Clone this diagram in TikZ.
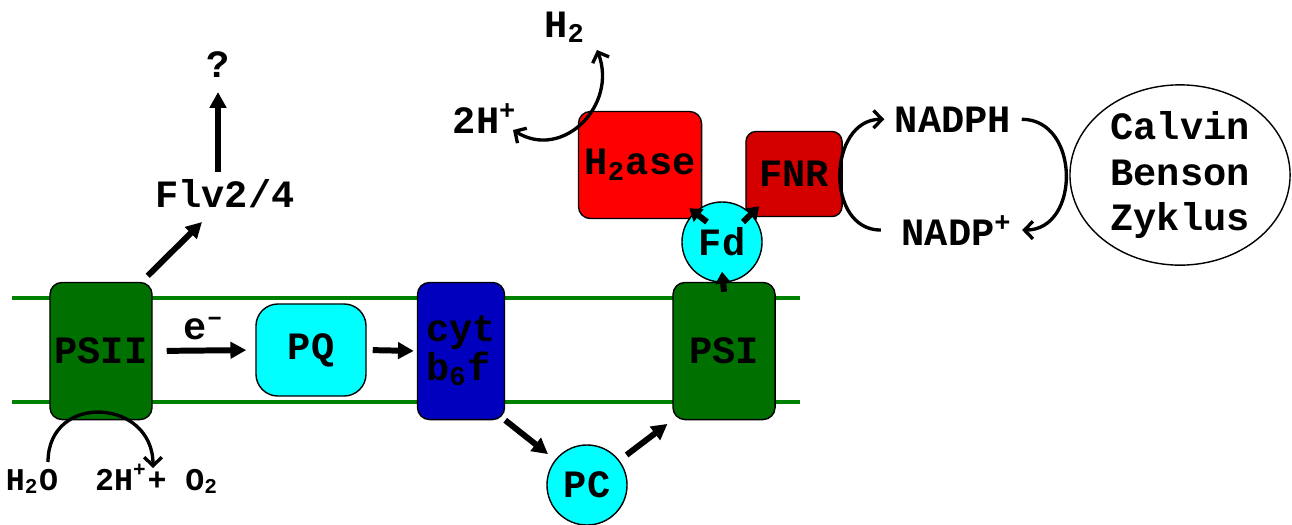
\documentclass[tikz,border=0pt]{standalone}
\usepackage{fontspec}
\setmainfont{Liberation Mono}
\usetikzlibrary{positioning}
\usetikzlibrary{calc}
\usetikzlibrary{arrows.meta}
\usetikzlibrary{shapes.geometric}
\definecolor{psgreen}{RGB}{0,112,0}
\definecolor{memgreen}{RGB}{0,128,0}
\definecolor{cytblue}{RGB}{0,0,190}
\definecolor{fnrred}{RGB}{212,0,0}
\definecolor{pqcyan}{RGB}{0,255,255}
\tikzset{
  box/.style            = { rectangle, inner sep=0pt, font=\bfseries\fontsize{11}{13}\selectfont },
  border/.style         = { thin, draw=black },
  round/.style          = { rounded corners=1.2mm },
}
\tikzset{
  complex/.style={
    box,
    border,
    round,
    minimum width=10.2mm,
    minimum height=13.7mm
  },
  carrier/.style        = { circle, border, fill=pqcyan, inner sep=0pt, minimum size=8mm,
                            font=\bfseries\fontsize{11}{13}\selectfont },
  tag/.style            = { inner sep=0pt, font=\bfseries\fontsize{11}{13}\selectfont },
  smalltag/.style       = { inner sep=0pt, font=\bfseries\fontsize{9}{11}\selectfont },
  membrane/.style       = { draw=memgreen, line width=1.1pt },
  flow/.style           = { line width=1.7pt, -{Triangle[length=4.5pt,width=4.6pt]} },
  shortflow/.style      = { line width=1.7pt, -{Triangle[length=3.4pt,width=4.4pt]} },
  turnover/.style       = { line width=0.95pt, -{Straight Barb[length=2.4pt,width=5pt]} },
  reversible/.style     = { line width=0.95pt, {Straight Barb[length=2.4pt,width=5pt]}-{Straight Barb[length=2.4pt,width=5pt]} }
}
\begin{document}
\begin{tikzpicture}[x=0.01cm, y=-0.01cm]
  \useasboundingbox (0,0) rectangle (1292,524);
  % thylakoid membrane
  \draw [membrane] (12,298) -- (800,298);
  \draw [membrane] (12,402) -- (800,402);

  \node (psii)  [complex,fill=psgreen] at (101,351) {PSII};
  \node (pq)    [complex,fill=pqcyan,minimum width=11mm,minimum height=9.2mm,rounded corners=2.2mm] at (311,350) {PQ};
  \node (cyt)   [complex,fill=cytblue,minimum width=8.7mm,align=left,
                 font=\bfseries\fontsize{11}{11}\selectfont] at (461,351) {cyt\\b\textsubscript{6}f};
  \node (psi)   [complex,fill=psgreen] at (724,351) {PSI};
  \node (pc)    [carrier] at (587,485) {PC};
  \node (h2ase) [complex,fill=red,minimum width=12.3mm,minimum height=10.7mm] at (640,165) {H\textsubscript{2}ase};
  \node (fnr)   [complex,fill=fnrred,minimum width=9.6mm,minimum height=8.5mm,rounded corners=1mm] at (794,174) {FNR};
  \node (fd)    [carrier] at (722,242) {Fd};
  \node (calvin) [ellipse,border,inner sep=0pt,minimum width=22mm,minimum height=16.6mm,align=center,
                  font=\bfseries\fontsize{11}{13}\selectfont] at (1180,175) {Calvin\\Benson\\Zyklus};

  \node (flv)     [tag,anchor=base] at (225,207) {Flv2/4};
  \node (query)   [tag,anchor=base] at (218,77)  {?};
  \node (h2)      [tag,anchor=base] at (565,37)  {H\textsubscript{2}};
  \node (protons) [tag,anchor=base] at (485,133) {2H\textsuperscript{+}};
  \node (nadph)   [tag,anchor=base] at (953,132) {NADPH};
  \node (nadp)    [tag,anchor=base] at (957,245) {NADP\textsuperscript{+}};
  \node (water)   [smalltag,anchor=base] at (32,490)  {H\textsubscript{2}O};
  \node (oxygen)  [smalltag,anchor=base] at (157,490) {2H\textsuperscript{+}+ O\textsubscript{2}};

  % electron transport
  \draw [flow,shorten <=1.4mm,shorten >=0.9mm] (psii.east) -- node [tag,above=0.8mm] {e\textsuperscript{--}} (pq.west);
  \draw [flow,shorten <=0.6mm,shorten >=0.3mm] (pq.east) -- (cyt.west);
  \draw [flow,shorten >=0.9mm] (cyt.south east) -- (pc);
  \draw [flow,shorten <=0.9mm,shorten >=0.6mm] (pc) -- (psi.south west);
  \draw [shortflow] ([yshift=-1mm]psi.north) -- ([yshift=1.1mm]fd.south);
  \draw [shortflow] ([shift={(-1.5mm,2mm)}]fd.center) -- ([shift={(-1.3mm,1.1mm)}]h2ase.south east);
  \draw [shortflow] ([shift={(2.1mm,2mm)}]fd.center) -- ([shift={(1.4mm,1.1mm)}]fnr.south west);
  \draw [flow] ([shift={(-0.5mm,0.6mm)}]psii.north east) -- ([shift={(-2.3mm,-1.5mm)}]flv.base);
  \draw [flow] ([shift={(-0.7mm,3.5mm)}]flv.base) -- ([yshift=-1.5mm]query.base);

  % turnover
  \draw [turnover] ([shift={(1.6mm,2.8mm)}]water.base) to [out=90,in=90,looseness=1.7] ([shift={(-0.4mm,2.2mm)}]oxygen.base);
  \draw [reversible] ([shift={(2.8mm,0.3mm)}]protons.base) to [out=-32,in=-69,looseness=1.3] ([shift={(3.2mm,-1.3mm)}]h2.base);
  \draw [turnover] ([xshift=-2mm]nadp.west) to [out=180,in=180,looseness=1.3] ([xshift=-1mm]nadph.west);
  \draw [turnover] ([xshift=1mm]nadph.east) to [out=0,in=0,looseness=1.35] ([xshift=0.9mm]nadp.east);
\end{tikzpicture}
\end{document}
